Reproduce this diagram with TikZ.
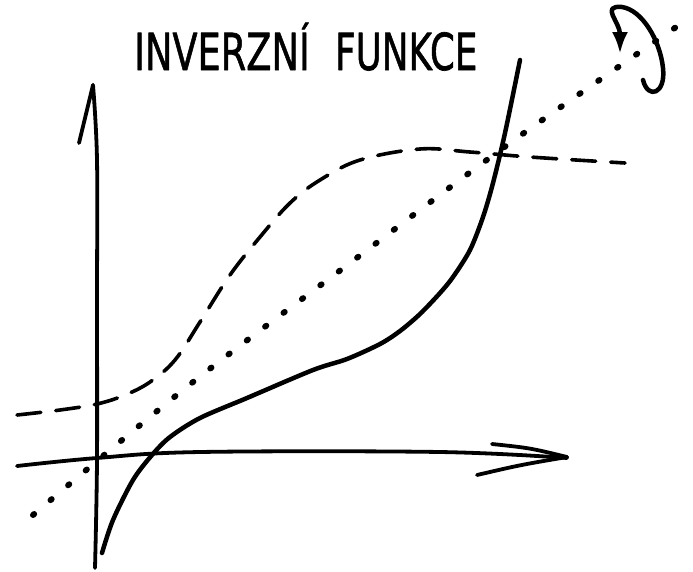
\documentclass[tikz,border=0pt]{standalone}
\usepackage{fontspec}
\setmainfont{DejaVu Sans}
\newfontfamily\handfont[FakeBold=1.3]{DejaVu Sans}
\usetikzlibrary{arrows.meta}
\begin{document}
\begin{tikzpicture}[x=1pt,y=-1pt, line cap=round, line join=round,
  axis/.style={line width=3.8pt},
  curve/.style={line width=4.5pt},
  dashcurve/.style={line width=3.6pt, dash pattern=on 24pt off 15pt},
  dotline/.style={line width=6pt, dash pattern=on 1.5pt off 21.5pt},
  titletext/.style={inner sep=0pt, anchor=base west, font=\fontsize{51}{51}\selectfont\handfont}]
\useasboundingbox (0,0) rectangle (693,571);
% title
\node[titletext, xscale=0.72] (t1) at (134,70) {INVERZNÍ};
\node[titletext, xscale=0.70] (t2) at (335,70) {FUNKCE};
% axes
\draw[axis] plot[smooth, tension=0.6] coordinates {(17,466) (97,458) (200,452) (440,452) (567,458)};
\coordinate (xtip) at (567,457);
\draw[axis] (492,444) .. controls (530,448) .. (xtip);
\draw[axis] (477,475) .. controls (520,465) .. (xtip);
\draw[axis] plot[smooth, tension=0.6] coordinates {(95,568) (97,460) (97,300) (97,160) (93,85)};
\coordinate (ytip) at (93,85);
\draw[axis] (ytip) -- (79,143);
% dotted diagonal
\draw[dotline] plot[smooth, tension=0.6] coordinates {(33,515) (188,386) (350,263) (510,143) (682,23)};
% dashed curve
\draw[dashcurve] plot[smooth, tension=0.6] coordinates {(17,415) (60,410) (97,404) (125,395) (150,382) (175,360) (200,322) (230,275) (260,237) (290,203) (320,180) (360,160) (420,149) (470,152) (530,157) (625,163)};
% solid curve
\draw[curve] plot[smooth, tension=0.5] coordinates {(102,553) (113,520) (133,480) (152,455) (170,437) (200,418) (247,398) (313,370) (347,359) (380,344) (400,331) (420,314) (440,293) (453,277) (470,250) (483,217) (493,183) (505,133) (520,60)};
% rotation arrow
\draw[line width=4.5pt, -{Latex[length=22pt,width=16pt]}] (643,80) .. controls (648,100) and (666,94) .. (663,68) .. controls (660,40) and (642,10) .. (622,7) .. controls (600,5) and (620,22) .. (620,54);
\end{tikzpicture}
\end{document}
